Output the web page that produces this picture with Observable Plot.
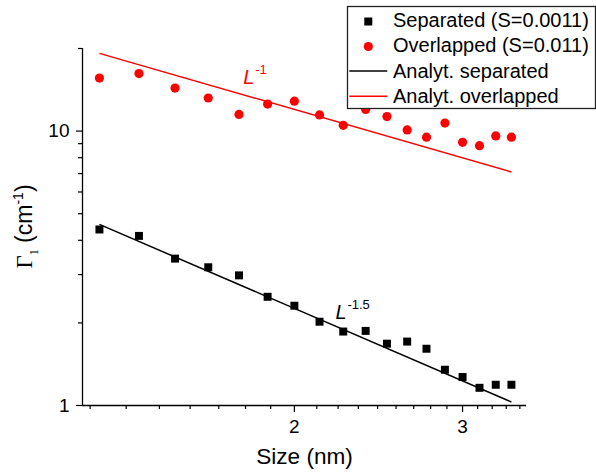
<!DOCTYPE html>
<html>
<head>
<meta charset="utf-8">
<script src="https://cdn.jsdelivr.net/npm/d3@7"></script>
<script src="https://cdn.jsdelivr.net/npm/@observablehq/plot@0.6"></script>
<style>
  html, body { margin: 0; padding: 0; background: white; }
  #chart { position: relative; width: 596px; height: 474px; }
</style>
</head>
<body>
<div id="chart"></div>
<script>
// ---- data ----
const sizes = [1.25, 1.375, 1.5, 1.625, 1.75, 1.875, 2.0, 2.125, 2.25, 2.375, 2.5, 2.625, 2.75, 2.875, 3.0, 3.125, 3.25, 3.375];
const separated = [4.38, 4.15, 3.43, 3.19, 2.98, 2.49, 2.31, 2.02, 1.86, 1.87, 1.68, 1.71, 1.61, 1.35, 1.27, 1.16, 1.19, 1.19];
const overlapped = [15.6, 16.2, 14.35, 13.2, 11.5, 12.55, 12.85, 11.45, 10.5, 12.0, 11.3, 10.1, 9.5, 10.7, 9.1, 8.85, 9.6, 9.5];
const fitSizes = [1.25, 3.375];
const fitSeparated = [4.57, 1.03];
const fitOverlapped = [19.2, 7.1];
const xTickLabels = [2, 3];
const yTickLabels = [1, 10];
const yMinorTicks = [2, 3, 4, 5, 6, 7, 8, 9, 20];
const legendLabels = ["Separated (S=0.0011)", "Overlapped (S=0.011)", "Analyt. separated", "Analyt. overlapped"];
const annotations = [
  {x: 1.768, y: 14.9, base: "L", exp: "-1", color: "red"},
  {x: 2.208, y: 2.067, base: "L", exp: "-1.5", color: "black"}
];
const xLabel = "Size (nm)";

// Origin-style minor ticks: 8 evenly spaced (in value) between integers
const xMinorTicks = [];
for (const base of [1, 2, 3]) for (let k = 1; k <= 8; k++) {
  const v = base + k / 9;
  if (v > 1.2 && v < 3.5) xMinorTicks.push(v);
}

const sepData = sizes.map((s, i) => ({x: s, y: separated[i]}));
const ovlData = sizes.map((s, i) => ({x: s, y: overlapped[i]}));
const fitSepData = fitSizes.map((s, i) => ({x: s, y: fitSeparated[i]}));
const fitOvlData = fitSizes.map((s, i) => ({x: s, y: fitOverlapped[i]}));

const chart = Plot.plot({
  width: 596,
  height: 474,
  marginLeft: 82,
  marginRight: 70,
  marginTop: 48,
  marginBottom: 69,
  style: {fontFamily: "'Liberation Sans', Arial, sans-serif", fontSize: "19px", background: "white", color: "black", overflow: "visible"},
  x: {type: "log", domain: [1.2, 3.5]},
  y: {type: "log", domain: [1, 20]},
  marks: [
    Plot.axisX({ticks: xTickLabels, tickSize: 7, tickPadding: 7, tickFormat: d => String(d), label: null, strokeWidth: 1.2}),
    Plot.axisX({ticks: xMinorTicks, tickSize: 4, tickFormat: () => "", label: null, strokeWidth: 1.2}),
    Plot.axisY({ticks: yTickLabels, tickSize: 6, tickPadding: 7, tickFormat: d => String(d), label: null, strokeWidth: 1.2}),
    Plot.axisY({ticks: yMinorTicks, tickSize: 4, tickFormat: () => "", label: null, strokeWidth: 1.2}),
    Plot.ruleX([1.2], {stroke: "black", strokeWidth: 1.3}),
    Plot.ruleY([1], {stroke: "black", strokeWidth: 1.3}),
    Plot.line(fitOvlData, {x: "x", y: "y", stroke: "red", strokeWidth: 1.5, strokeLinecap: "butt"}),
    Plot.line(fitSepData, {x: "x", y: "y", stroke: "black", strokeWidth: 1.5, strokeLinecap: "butt"}),
    Plot.dot(ovlData, {x: "x", y: "y", r: 4.6, fill: "red", symbol: "circle"}),
    Plot.dot(sepData, {x: "x", y: "y", r: 4.5, fill: "black", symbol: "square"}),
    Plot.text(annotations, {x: "x", y: "y", text: "base", fill: "color", textAnchor: "start", lineAnchor: "bottom", fontSize: 20, fontStyle: "italic"}),
    Plot.text(annotations, {x: "x", y: "y", text: "exp", fill: "color", textAnchor: "start", lineAnchor: "bottom", fontSize: 13, dx: 12, dy: -10}),
    Plot.text([xLabel], {frameAnchor: "bottom", text: d => d, lineAnchor: "bottom", dy: 58.5, fontSize: 22.6})
  ]
});

document.getElementById("chart").appendChild(chart);

const svg = d3.select(chart);

// y-axis label: Γ_1 (cm^-1)
const yl = svg.append("text")
  .attr("transform", "translate(32,226.5) rotate(-90)")
  .attr("text-anchor", "middle")
  .attr("fill", "black")
  .style("font-family", "'Liberation Sans', Arial, sans-serif")
  .style("font-size", "23px");
yl.append("tspan").text("Γ").style("font-family", "'Liberation Serif', 'Times New Roman', serif").style("font-size", "23px");
yl.append("tspan").text("1").attr("dy", 6).style("font-family", "'Liberation Serif', 'Times New Roman', serif").style("font-size", "12px");
yl.append("tspan").text(" (cm").attr("dy", -6);
yl.append("tspan").text("-1").attr("dy", -9).style("font-size", "14px");
yl.append("tspan").text(")").attr("dy", 9);

// legend
const lg = svg.append("g")
  .attr("text-anchor", "start")
  .style("font-family", "'Liberation Sans', Arial, sans-serif")
  .style("font-size", "20px");
lg.append("rect").attr("x", 347.5).attr("y", 6.5).attr("width", 248).attr("height", 102)
  .attr("fill", "white").attr("stroke", "#222").attr("stroke-width", 1.3);
const rowBase = [27, 52.3, 77.5, 102.6];
const rowMid = [21.5, 46.5, 71, 96.3];
lg.append("rect").attr("x", 364.3).attr("y", rowMid[0] - 4).attr("width", 8).attr("height", 8).attr("fill", "black");
lg.append("circle").attr("cx", 368.3).attr("cy", rowMid[1]).attr("r", 4.6).attr("fill", "red");
lg.append("line").attr("x1", 349.3).attr("x2", 387.3).attr("y1", rowMid[2]).attr("y2", rowMid[2]).attr("stroke", "black").attr("stroke-width", 1.5);
lg.append("line").attr("x1", 349.3).attr("x2", 387.3).attr("y1", rowMid[3]).attr("y2", rowMid[3]).attr("stroke", "red").attr("stroke-width", 1.5);
legendLabels.forEach((t, i) => {
  lg.append("text").attr("x", 393).attr("y", rowBase[i]).attr("text-anchor", "start").attr("fill", "black").text(t);
});
</script>
</body>
</html>
